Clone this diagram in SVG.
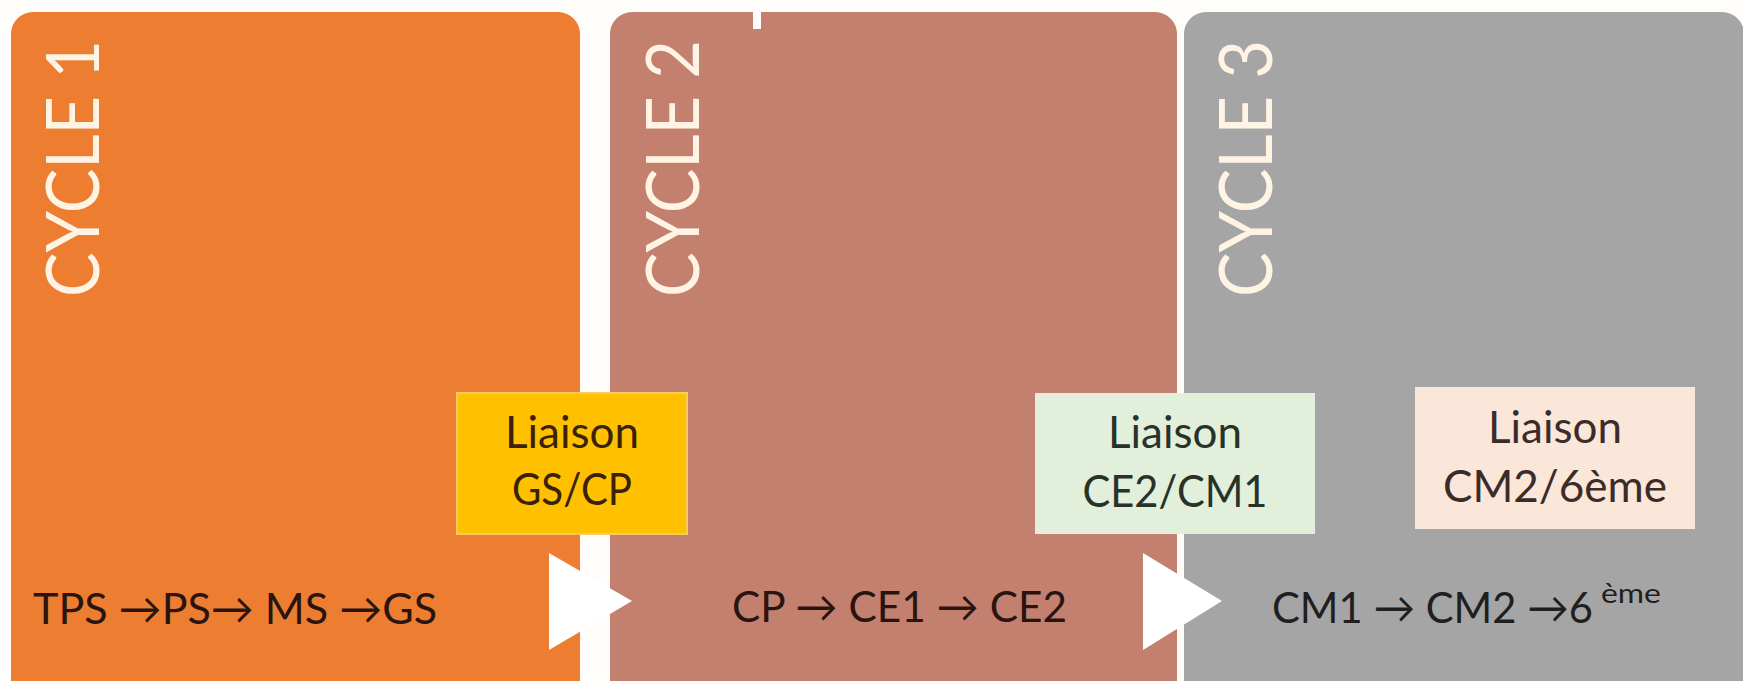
<svg xmlns="http://www.w3.org/2000/svg" width="1743" height="681" viewBox="0 0 1743 681">
  <style>
    .title { font-family: Lato, "Open Sans", "Liberation Sans", sans-serif; font-weight: 400; font-size: 74px; fill: #FFF4E4; }
    .row { font-family: Lato, "Open Sans", "Liberation Sans", sans-serif; font-size: 43px; }
    .lia { font-family: Lato, "Open Sans", "Liberation Sans", sans-serif; font-size: 44px; text-anchor: middle; }
    .tri { fill: #FFFFFF; }
  </style>
  <rect x="0" y="0" width="1743" height="681" fill="#FFFDF9"/>

  <g id="cycle1">
    <rect x="11" y="12" width="569" height="720" rx="22" fill="#ED7D31"/>
    <text class="title" transform="translate(99,297) rotate(-90)" textLength="257" lengthAdjust="spacingAndGlyphs">CYCLE 1</text>
    <text class="row" x="33" y="624" font-size="46" fill="#2A1410" textLength="404" lengthAdjust="spacingAndGlyphs">TPS →PS→ MS →GS</text>
  </g>

  <g id="cycle2">
    <rect x="610" y="12" width="567" height="720" rx="22" fill="#C4806F"/>
    <rect x="753" y="10" width="8" height="19" fill="#FFFDF9"/>
    <text class="title" transform="translate(699,297) rotate(-90)" textLength="257" lengthAdjust="spacingAndGlyphs">CYCLE 2</text>
    <text class="row" x="732" y="622" fill="#2A1410" textLength="335" lengthAdjust="spacingAndGlyphs">CP → CE1 → CE2</text>
  </g>

  <g id="cycle3">
    <rect x="1184" y="12" width="560" height="720" rx="22" fill="#A5A5A5"/>
    <text class="title" transform="translate(1272,297) rotate(-90)" textLength="257" lengthAdjust="spacingAndGlyphs">CYCLE 3</text>
    <text class="row" fill="#1F1F1F"><tspan x="1272" y="623" textLength="321" lengthAdjust="spacingAndGlyphs">CM1 → CM2 →6</tspan><tspan x="1601" y="603" font-size="27" textLength="60" lengthAdjust="spacingAndGlyphs">ème</tspan></text>
  </g>

  <g id="connectors">
    <polygon class="tri" points="549,553 549,650 632,601"/>
    <polygon class="tri" points="1143,553 1143,650 1222,601"/>
  </g>

  <g id="liaison-gs-cp">
    <rect x="457" y="393" width="230" height="141" fill="#FFC000" stroke="#F8CC5C" stroke-width="2"/>
    <text class="lia" x="572" y="448" fill="#3A2208" textLength="134" lengthAdjust="spacingAndGlyphs">Liaison</text>
    <text class="lia" x="572" y="505" fill="#3A2208" textLength="120" lengthAdjust="spacingAndGlyphs">GS/CP</text>
  </g>

  <g id="liaison-ce2-cm1">
    <rect x="1035" y="393" width="280" height="141" fill="#E2EFDA"/>
    <text class="lia" x="1175" y="448" fill="#283228" textLength="134" lengthAdjust="spacingAndGlyphs">Liaison</text>
    <text class="lia" x="1175" y="507" fill="#283228" textLength="185" lengthAdjust="spacingAndGlyphs">CE2/CM1</text>
  </g>

  <g id="liaison-cm2-6eme">
    <rect x="1415" y="387" width="280" height="142" fill="#FBE6DA"/>
    <text class="lia" x="1555" y="443" fill="#3A2C28" textLength="134" lengthAdjust="spacingAndGlyphs">Liaison</text>
    <text class="lia" x="1555" y="502" fill="#3A2C28" textLength="224" lengthAdjust="spacingAndGlyphs">CM2/6ème</text>
  </g>
</svg>
